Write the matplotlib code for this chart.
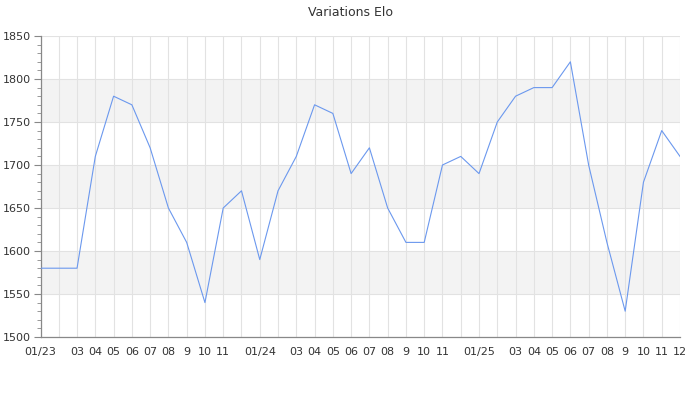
import matplotlib
matplotlib.use("Agg")
import matplotlib.pyplot as plt
from matplotlib.ticker import MultipleLocator, FixedLocator, FixedFormatter

elo = [1580, 1580, 1580, 1710, 1780, 1770, 1720, 1650, 1610, 1540, 1650, 1670,
       1590, 1670, 1710, 1770, 1760, 1690, 1720, 1650, 1610, 1610, 1700, 1710,
       1690, 1750, 1780, 1790, 1790, 1820, 1700, 1610, 1530, 1680, 1740, 1710]
tick_labels = ["01/23", "", "03", "04", "05", "06", "07", "08", "9", "10", "11", "",
               "01/24", "", "03", "04", "05", "06", "07", "08", "9", "10", "11", "",
               "01/25", "", "03", "04", "05", "06", "07", "08", "9", "10", "11", "12"]
bands = [(1550, 1600), (1650, 1700), (1750, 1800)]
title = "Variations Elo"

plt.rcParams['font.family'] = ['DejaVu Sans']
fig = plt.figure(figsize=(7, 4), dpi=100)
ax = fig.add_axes([40.5/700, 1 - 337/400, 639.5/700, (337-36)/400])

xs = list(range(len(elo)))
for lo, hi in bands:
    ax.axhspan(lo, hi, color='#f3f3f3', zorder=0, lw=0)

ax.plot(xs, elo, color='#6b98ee', lw=0.8, zorder=3)

ax.set_xlim(xs[0], xs[-1])
ax.set_ylim(1500, 1850)
ax.xaxis.set_major_locator(FixedLocator(xs))
ax.xaxis.set_major_formatter(FixedFormatter(tick_labels))
ax.yaxis.set_major_locator(MultipleLocator(50))
ax.yaxis.set_minor_locator(MultipleLocator(10))
ax.grid(True, which='major', color='#e2e2e2', lw=0.8, zorder=1)
ax.set_axisbelow(True)

for s in ['top', 'right']:
    ax.spines[s].set_visible(False)
for s in ['left', 'bottom']:
    ax.spines[s].set_color('#888888')
    ax.spines[s].set_linewidth(0.9)

ax.tick_params(axis='y', which='major', length=5, color='#888888', labelsize=8,
               labelcolor='#333333', pad=2)
ax.tick_params(axis='y', which='minor', length=3, color='#888888')
ax.tick_params(axis='x', which='major', length=0, labelsize=8,
               labelcolor='#333333', pad=7)

fig.text(350/700, 1 - 12/400, title, ha='center', va='center', fontsize=9,
         color='#333333')

fig.savefig("out.png", dpi=100)
